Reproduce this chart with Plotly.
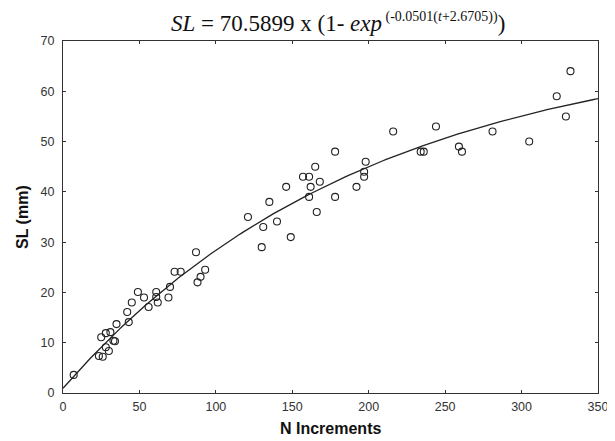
import numpy as np
import plotly.graph_objects as go

n_increments = [7, 25, 28, 31, 23.5, 26, 28, 30, 33, 34, 35, 43, 42, 45, 49, 53, 56, 61, 61, 62,
                69, 70, 73, 77, 87, 88, 90, 93, 121, 131, 130, 135, 140, 149, 146, 157, 161, 165,
                162, 168, 161, 166, 178, 178, 192, 198, 197, 197, 216, 244, 234, 236, 259, 261,
                281, 305, 323, 329, 332]
sl_mm = [3.6, 11.1, 11.9, 12.1, 7.35, 7.2, 9.1, 8.35, 10.4, 10.3, 13.7, 14.1, 16.1, 18.0, 20.1,
         19.0, 17.1, 20.1, 19.1, 18.0, 19.0, 21.1, 24.1, 24.1, 28.0, 22.0, 23.1, 24.5, 35.0, 33.0,
         29.0, 38.0, 34.1, 31.0, 41.0, 43.0, 43.0, 45.0, 41.0, 42.0, 39.0, 36.0, 48.0, 39.0, 41.0,
         46.0, 44.0, 43.0, 52.0, 53.0, 48.0, 48.0, 49.0, 48.0, 52.0, 50.0, 59.0, 55.0, 64.0]

# Fitted von Bertalanffy curve parameters (as drawn)
L_INF = 70.5899
K = 0.00501
T0 = 2.6705

x_ticks = [0, 50, 100, 150, 200, 250, 300, 350]
y_ticks = [0, 10, 20, 30, 40, 50, 60, 70]

t_fit = np.linspace(0, 350, 200)
sl_fit = L_INF * (1 - np.exp(-K * (t_fit + T0)))

fig = go.Figure()
fig.add_trace(go.Scatter(x=t_fit, y=sl_fit, mode="lines",
                         line=dict(color="#222222", width=1.3), showlegend=False,
                         hoverinfo="skip"))
fig.add_trace(go.Scatter(x=n_increments, y=sl_mm, mode="markers",
                         marker=dict(symbol="circle-open", size=7,
                                     color="#222222", line=dict(width=1.1)),
                         showlegend=False))

axis_common = dict(showgrid=False, zeroline=False, showline=True, mirror="ticks",
                   linecolor="#333333", linewidth=1.3, ticks="inside", ticklen=3,
                   tickcolor="#333333", automargin=False,
                   tickfont=dict(family="Liberation Sans, Arial", size=12.5, color="#333333"))

fig.update_xaxes(range=[0, 350], tickvals=x_ticks, ticklabelstandoff=2, **axis_common)
fig.update_yaxes(range=[0, 70], tickvals=y_ticks, ticklabelstandoff=5, **axis_common)

title_font = dict(family="Liberation Sans, Arial", size=16, color="#111111")
fig.add_annotation(text="<b>N Increments</b>", xref="paper", yref="paper", x=0.5, y=0,
                   yshift=-35, xanchor="center", yanchor="middle", showarrow=False,
                   font=title_font)
fig.add_annotation(text="<b>SL (mm)</b>", xref="paper", yref="paper", x=0, y=0.5,
                   xshift=-41, xanchor="center", yanchor="middle", showarrow=False,
                   textangle=-90, font=title_font)

fig.add_annotation(
    text="<i>SL</i> = 70.5899 x (1- <i>exp</i><sup><span style='font-size:14px'> (-0.0501(<i>t</i>+2.6705))</span></sup>)",
    xref="paper", yref="paper", x=0.5, y=1, yshift=19, xshift=7, xanchor="center", yanchor="middle",
    showarrow=False, font=dict(family="Liberation Serif, Times New Roman", size=23, color="#111111"))

fig.update_layout(width=607, height=433, paper_bgcolor="white", plot_bgcolor="white",
                  margin=dict(l=55, r=17, t=33, b=48))

fig.write_html("out.html")
